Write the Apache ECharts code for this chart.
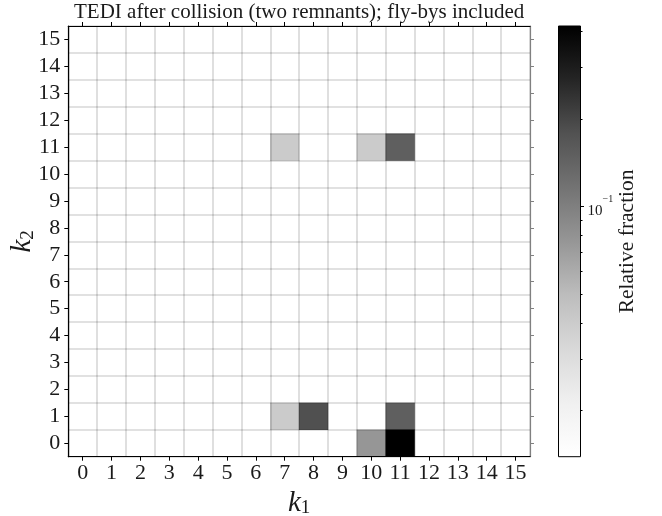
<!DOCTYPE html>
<html>
<head>
<meta charset="utf-8">
<script src="https://cdn.jsdelivr.net/npm/echarts@6/dist/echarts.min.js"></script>
<style>
html,body{margin:0;padding:0;background:#fff;}
#chart{width:662px;height:516px;}
</style>
</head>
<body>
<div id="chart"></div>
<script>
// ---- data ----
const k1Labels = ['0','1','2','3','4','5','6','7','8','9','10','11','12','13','14','15'];
const k2Labels = ['0','1','2','3','4','5','6','7','8','9','10','11','12','13','14','15'];
const cellK1 = [7, 10, 11, 7, 8, 11, 10, 11];
const cellK2 = [11, 11, 11, 1, 1, 1, 0, 0];
const fractions = [0.0403, 0.0403, 0.150, 0.0403, 0.1815, 0.151, 0.0757, 0.416];
const cbMin = 0.0139;
const cbMax = 0.416;
const cbMajorTicks = [0.1];
const cbMinorTicks = [0.02, 0.03, 0.04, 0.05, 0.06, 0.07, 0.08, 0.09, 0.2, 0.3, 0.4];
const titleText = 'TEDI after collision (two remnants); fly-bys included';
const greys = ['#ffffff','#f0f0f0','#d9d9d9','#bdbdbd','#969696','#737373','#525252','#252525','#000000'];

// ---- layout ----
const FONT = 'Liberation Serif';
const TXT = '#1a1a1a';
const main = {left: 68.3, top: 26, width: 461.7, height: 430.7};
const cb = {left: 558.5, top: 26, width: 22, height: 430.7};
const lmin = Math.log10(cbMin), lmax = Math.log10(cbMax);

const chart = echarts.init(document.getElementById('chart'), null, {renderer: 'canvas'});

const heatData = cellK1.map((x, i) => [x, cellK2[i], Math.log10(fractions[i])]);
const gridLine = {show: true, interval: 0, lineStyle: {color: 'rgba(0,0,0,0.16)', width: 1.6}};
const tickLabel = {fontFamily: FONT, fontSize: 22, color: TXT, interval: 0};
const nameRich = () => ({rich: {
  i: {fontFamily: FONT, fontStyle: 'italic', fontSize: 29, color: TXT, lineHeight: 30, verticalAlign: 'bottom'},
  s: {fontFamily: FONT, fontSize: 19, color: TXT, lineHeight: 12, verticalAlign: 'bottom'}
}});
const catTick = (color) => ({show: true, interval: 0, alignWithLabel: true, length: 4, lineStyle: {color: color}});

const option = {
  animation: false,
  backgroundColor: '#fff',
  grid: [
    Object.assign({show: false, containLabel: false, outerBoundsMode: 'none'}, main),
    Object.assign({show: true, borderColor: '#000', borderWidth: 1, backgroundColor: 'transparent', z: 5, containLabel: false, outerBoundsMode: 'none'}, cb)
  ],
  visualMap: {
    show: false, type: 'continuous', min: lmin, max: lmax, dimension: 2, seriesIndex: 0,
    inRange: {color: greys}
  },
  xAxis: [
    {
      type: 'category', data: k1Labels, gridIndex: 0, position: 'bottom', z: 3,
      axisLine: {lineStyle: {color: '#000', width: 1.2}},
      axisTick: catTick('#000'),
      axisLabel: Object.assign({margin: 6}, tickLabel),
      splitLine: gridLine,
      name: '{i|k}{s|1}', nameLocation: 'middle', nameGap: 31, nameMoveOverlap: false,
      nameTextStyle: nameRich()
    },
    {
      type: 'category', data: k1Labels, gridIndex: 0, position: 'top', z: 3,
      axisLine: {lineStyle: {color: '#000', width: 1.2}},
      axisTick: catTick('#000'),
      axisLabel: {show: false}, splitLine: {show: false}
    },
    {
      type: 'value', gridIndex: 1, min: 0, max: 1, show: false
    }
  ],
  yAxis: [
    {
      type: 'category', data: k2Labels, gridIndex: 0, position: 'left', z: 3,
      axisLine: {lineStyle: {color: '#000', width: 1.2}},
      axisTick: catTick('#000'),
      axisLabel: Object.assign({margin: 8}, tickLabel),
      splitLine: gridLine,
      name: '{i|k}{s|2}', nameLocation: 'middle', nameGap: 31, nameRotate: 90, nameMoveOverlap: false,
      nameTextStyle: nameRich()
    },
    {
      type: 'category', data: k2Labels, gridIndex: 0, position: 'right', z: 3,
      axisLine: {lineStyle: {color: '#808080', width: 1.2}},
      axisTick: catTick('#808080'),
      axisLabel: {show: false}, splitLine: {show: false}
    },
    {
      type: 'value', gridIndex: 1, min: lmin, max: lmax, position: 'right', z: 6,
      axisLine: {show: false, onZero: false}, splitLine: {show: false},
      axisTick: {show: true, length: 2, lineStyle: {color: '#000'}, customValues: cbMinorTicks.map(v => Math.log10(v))},
      axisLabel: {show: false},
      name: 'Relative fraction', nameLocation: 'middle', nameGap: 36, nameRotate: 90, nameMoveOverlap: false,
      nameTextStyle: {fontFamily: FONT, fontSize: 21.5, color: TXT}
    },
    {
      type: 'value', gridIndex: 1, min: lmin, max: lmax, position: 'right', z: 6,
      axisLine: {show: false, onZero: false}, splitLine: {show: false},
      axisTick: {show: true, length: 3.5, lineStyle: {color: '#000'}, customValues: cbMajorTicks.map(v => Math.log10(v))},
      axisLabel: {
        show: true, margin: 7, customValues: cbMajorTicks.map(v => Math.log10(v)),
        formatter: (v) => '{b|10}{s|\u22121}',
        rich: {
          b: {fontFamily: FONT, fontSize: 15, color: TXT, lineHeight: 18, verticalAlign: 'bottom'},
          s: {fontFamily: FONT, fontSize: 10, color: TXT, lineHeight: 24, verticalAlign: 'top'}
        }
      }
    }
  ],
  graphic: [
    {
      type: 'rect', z: 1,
      shape: {x: cb.left, y: cb.top, width: cb.width, height: cb.height},
      style: {fill: {type: 'linear', x: 0, y: 1, x2: 0, y2: 0,
        colorStops: greys.map((c, i) => ({offset: i / (greys.length - 1), color: c}))}}
    },
    {
      type: 'text', z: 10, x: main.left + main.width / 2, y: 12,
      style: {text: titleText, fontFamily: FONT, fontSize: 21, fill: TXT, align: 'center', verticalAlign: 'middle'}
    }
  ],
  series: [
    {
      type: 'heatmap', xAxisIndex: 0, yAxisIndex: 0, z: 1,
      data: heatData,
      emphasis: {disabled: true},
      itemStyle: {borderWidth: 0}
    },
    {
      type: 'line', xAxisIndex: 2, yAxisIndex: 2, data: [], silent: true
    }
  ]
};
chart.setOption(option);
</script>
</body>
</html>
